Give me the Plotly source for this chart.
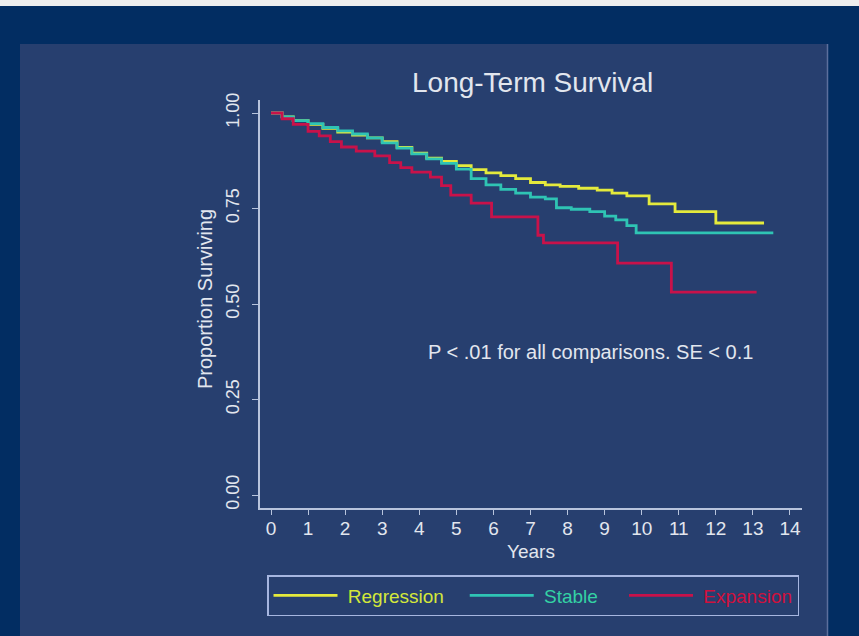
import plotly.graph_objects as go

# Kaplan-Meier style survival estimates (years, proportion surviving)
regression_years = [0, 0.3, 0.6, 1.0, 1.4, 1.8, 2.2, 2.6, 3.0, 3.4, 3.8, 4.2, 4.6, 5.0,
                    5.4, 5.8, 6.2, 6.6, 7.0, 7.4, 7.8, 8.3, 8.8, 9.2, 9.6, 10.2, 10.9,
                    12.0, 13.3]
regression_surv = [1.0, 0.99, 0.98, 0.97, 0.96, 0.95, 0.942, 0.935, 0.925, 0.91, 0.895,
                   0.882, 0.873, 0.862, 0.852, 0.843, 0.836, 0.828, 0.818, 0.812, 0.808,
                   0.803, 0.798, 0.79, 0.783, 0.762, 0.742, 0.712, 0.712]

stable_years = [0, 0.3, 0.6, 1.0, 1.4, 1.8, 2.2, 2.6, 3.0, 3.4, 3.8, 4.2, 4.6, 5.0, 5.4,
                5.8, 6.2, 6.6, 7.0, 7.4, 7.7, 8.1, 8.6, 9.0, 9.3, 9.6, 9.85, 13.55]
stable_surv = [1.0, 0.99, 0.98, 0.972, 0.962, 0.953, 0.945, 0.935, 0.922, 0.908, 0.893,
               0.88, 0.868, 0.853, 0.828, 0.812, 0.800, 0.790, 0.780, 0.775, 0.752,
               0.748, 0.742, 0.73, 0.72, 0.705, 0.686, 0.686]

expansion_years = [0, 0.3, 0.6, 1.0, 1.3, 1.6, 1.9, 2.3, 2.8, 3.2, 3.5, 3.8, 4.3, 4.6,
                   4.85, 5.4, 5.95, 7.2, 7.35, 9.35, 10.8, 13.1]
expansion_surv = [1.0, 0.985, 0.97, 0.952, 0.94, 0.925, 0.911, 0.9, 0.888, 0.87, 0.857,
                  0.845, 0.832, 0.81, 0.785, 0.764, 0.728, 0.68, 0.66, 0.607, 0.531, 0.531]

x_ticks = list(range(0, 15))
y_ticks = [0.0, 0.25, 0.5, 0.75, 1.0]
y_tick_labels = ["0.00", "0.25", "0.50", "0.75", "1.00"]

W, H = 859, 636
L, R, T, B = 260, 57, 100, 128  # plot-area margins in px

OUTER = "#022d62"
PANEL = "#273f6f"
TEXT = "#e2e6ee"
AXIS = "#b8c4dc"
FONT = "Liberation Sans, Arial, sans-serif"

C_REG = "#e4ea3c"
C_STA = "#2fc4b4"
C_EXP = "#c8124a"

NB = "\u00a0"


def px_x(px):
    return (px - L) / (W - L - R)


def px_y(py):
    return (H - B - py) / (H - T - B)


fig = go.Figure()
# name, x, y, line colour, legend text colour, trailing spacing in legend
series = [
    ("Regression", regression_years, regression_surv, C_REG, "#d4e83a", 3),
    ("Stable", stable_years, stable_surv, C_STA, "#34d2a4", 4),
    ("Expansion", expansion_years, expansion_surv, C_EXP, "#d0103c", 0),
]
for name, xs, ys, col, tcol, pad in series:
    fig.add_trace(go.Scatter(
        x=xs, y=ys, mode="lines", line=dict(color=col, width=2.8, shape="hv"),
        name=f"<span style='color:{tcol}'>{NB}{name}{NB * pad}</span>",
    ))

shapes = [
    # light strip along the top edge
    dict(type="rect", xref="paper", yref="paper", x0=px_x(0), x1=px_x(W),
         y0=px_y(6), y1=px_y(0), fillcolor="#eeeeee", line=dict(width=0), layer="below"),
    # inner panel
    dict(type="rect", xref="paper", yref="paper", x0=px_x(20), x1=px_x(828),
         y0=px_y(H + 2), y1=px_y(44), fillcolor=PANEL,
         line=dict(width=0), layer="below"),
    dict(type="line", xref="paper", yref="paper", x0=px_x(827.5), x1=px_x(827.5),
         y0=px_y(H + 2), y1=px_y(44), line=dict(color="#5c6f9c", width=1.5),
         layer="below"),
]

annotations = [
    dict(text="Long-Term Survival", xref="paper", yref="paper", x=px_x(532), y=px_y(83),
         xanchor="center", yanchor="middle", showarrow=False,
         font=dict(size=28, color=TEXT, family=FONT)),
    dict(text="Proportion Surviving", xref="paper", yref="paper", x=px_x(205), y=px_y(299),
         xanchor="center", yanchor="middle", textangle=-90, showarrow=False,
         font=dict(size=20, color=TEXT, family=FONT)),
    dict(text="Years", xref="paper", yref="paper", x=px_x(531), y=px_y(551),
         xanchor="center", yanchor="middle", showarrow=False,
         font=dict(size=19, color=TEXT, family=FONT)),
    dict(text="P < .01 for all comparisons. SE < 0.1", xref="paper", yref="paper",
         x=px_x(590), y=px_y(352), xanchor="center", yanchor="middle", showarrow=False,
         font=dict(size=20, color=TEXT, family=FONT)),
]

fig.update_layout(
    width=W, height=H,
    margin=dict(l=L, r=R, t=T, b=B, autoexpand=False),
    paper_bgcolor=OUTER, plot_bgcolor=PANEL,
    font=dict(family=FONT, color=TEXT, size=18),
    shapes=shapes, annotations=annotations,
    showlegend=True,
    legend=dict(
        orientation="h", x=px_x(267), y=px_y(575), xanchor="left", yanchor="top",
        bgcolor="rgba(0,0,0,0)", bordercolor="#a6b6e0", borderwidth=1.5,
        font=dict(size=19, family=FONT), itemwidth=64,
        tracegroupgap=0,
    ),
    xaxis=dict(
        range=[(L - 271) / 37.07, (W - R - 271) / 37.07],
        tickmode="array", tickvals=x_ticks, ticktext=[str(v) for v in x_ticks],
        showgrid=False, zeroline=False, showline=True, linecolor=AXIS, linewidth=1.5,
        ticks="outside", ticklen=5, tickcolor=AXIS, tickwidth=1.2,
        ticklabelstandoff=-3,
        tickfont=dict(size=19, color=TEXT, family=FONT),
    ),
    yaxis=dict(
        range=[(495 - (H - B)) / 382.0, (495 - T) / 382.0],
        tickmode="array", tickvals=y_ticks, ticktext=y_tick_labels,
        showgrid=False, zeroline=False, showline=True, linecolor=AXIS, linewidth=1.5,
        ticks="outside", ticklen=6, tickcolor=AXIS, tickwidth=1.2, tickangle=-90,
        ticklabelstandoff=6,
        tickfont=dict(size=18, color=TEXT, family=FONT),
    ),
)

fig.write_html("out.html")
